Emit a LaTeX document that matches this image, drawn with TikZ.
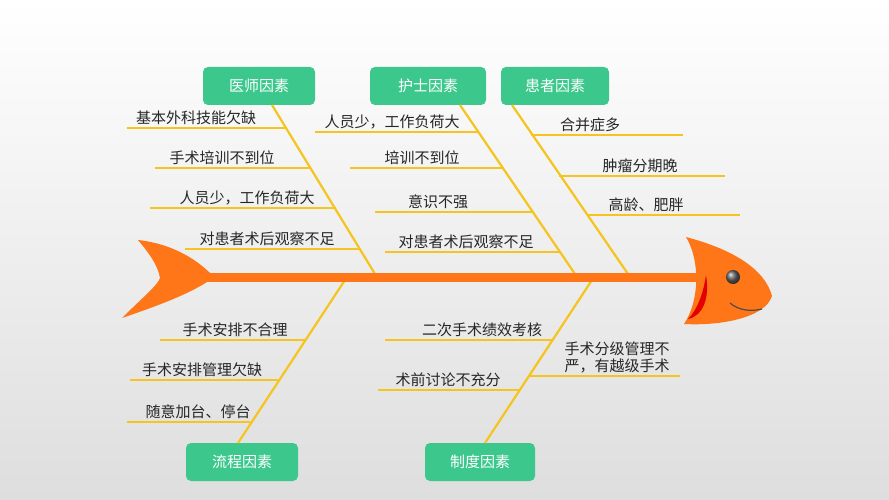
\documentclass[tikz,border=0pt]{standalone}
\usepackage{fontspec}
\setmainfont{Noto Sans CJK SC}
\definecolor{bonecol}{RGB}{245,196,30}
\definecolor{boxgreen}{RGB}{60,200,140}
\definecolor{fishor}{RGB}{255,118,24}
\tikzset{every picture/.style={line width=0.75pt}}
\tikzset{
  catbox/.style={fill=boxgreen,rounded corners=5pt,minimum height=38pt,text=white,font=\fontsize{15}{15}\selectfont,inner sep=0pt},
  cause/.style={font=\fontsize{15}{17}\selectfont,inner sep=1pt,anchor=south,text=black!85},
  bone/.style={draw=bonecol,line width=2.2pt}
}
\begin{document}
\begin{tikzpicture}[x=1pt,y=-1pt]
	\shade[top color=white,bottom color=black!13] (0,0) rectangle (889,500);
	\useasboundingbox (0,0) rectangle (889,500);
	
	%Category boxes
	\node[catbox,minimum width=112pt] (doc) at (259,86) {医师因素};
	\node[catbox,minimum width=116pt] (nurse) at (428,86) {护士因素};
	\node[catbox,minimum width=108pt] (pat) at (555,86) {患者因素};
	\node[catbox,minimum width=112pt] (flow) at (242,462) {流程因素};
	\node[catbox,minimum width=110pt] (rule) at (480,462) {制度因素};
	
	%Spine points
	\coordinate (sdoc) at (375,274);
	\coordinate (snurse) at (575,274);
	\coordinate (spat) at (628,274);
	\coordinate (sflow) at (345,280);
	\coordinate (srule) at (592,280);
	
	%Main bones
	\draw[bone] (272,105) -- (sdoc);
	\draw[bone] (460,105) -- (snurse);
	\draw[bone] (512,105) -- (spat);
	\draw[bone] (sflow) -- (238,443);
	\draw[bone] (srule) -- (485,443);
	
	%Spine
	\draw[fishor,line width=9pt] (205,277) -- (700,277);
	
	%Doctor causes
	\draw[bone] (127,128) -- (286,128);
	\draw[bone] (155,168) -- (311,168);
	\draw[bone] (150,208) -- (336,208);
	\draw[bone] (185,249) -- (361,249);
	\node[cause] (d1) at (196,126) {基本外科技能欠缺};
	\node[cause] (d2) at (222,166) {手术培训不到位};
	\node[cause] (d3) at (247,206) {人员少，工作负荷大};
	\node[cause] (d4) at (267,247) {对患者术后观察不足};
	
	%Nurse causes
	\draw[bone] (315,132) -- (479,132);
	\draw[bone] (350,168) -- (503,168);
	\draw[bone] (375,212) -- (534,212);
	\draw[bone] (385,252) -- (561,252);
	\node[cause] (n1) at (392,130) {人员少，工作负荷大};
	\node[cause] (n2) at (422,166) {培训不到位};
	\node[cause] (n3) at (438,210) {意识不强};
	\node[cause] (n4) at (466,250) {对患者术后观察不足};
	
	%Patient causes
	\draw[bone] (531,135) -- (683,135);
	\draw[bone] (559,176) -- (725,176);
	\draw[bone] (587,215) -- (740,215);
	\node[cause] (p1) at (590,133) {合并症多};
	\node[cause] (p2) at (640,174) {肿瘤分期晚};
	\node[cause] (p3) at (646,213) {高龄、肥胖};
	
	%Flow causes
	\draw[bone] (160,340) -- (305,340);
	\draw[bone] (130,380) -- (278,380);
	\draw[bone] (127,422) -- (250,422);
	\node[cause] (f1) at (235,338) {手术安排不合理};
	\node[cause] (f2) at (202,378) {手术安排管理欠缺};
	\node[cause] (f3) at (198,420) {随意加台、停台};
	
	%Rule causes
	\draw[bone] (385,340) -- (553,340);
	\draw[bone] (378,390) -- (519,390);
	\draw[bone] (528,376) -- (680,376);
	\node[cause] (r1) at (482,338) {二次手术绩效考核};
	\node[cause] (r2) at (448,388) {术前讨论不充分};
	\node[cause,align=left] (r3) at (617,374) {手术分级管理不\\严，有越级手术};
	
	%Tail
	\fill[fishor] (138,240) .. controls (175,244) and (200,262) .. (214,277) .. controls (195,292) and (160,305) .. (122,318) .. controls (140,300) and (158,285) .. (160,278) .. controls (158,265) and (148,252) .. (138,240) -- cycle;
	%Head
	\fill[fishor] (686,237) .. controls (735,250) and (765,270) .. (772,296) .. controls (765,318) and (720,326) .. (684,324) .. controls (700,300) and (700,260) .. (686,237) -- cycle;
	\fill[red!90!black] (706,275) .. controls (703,295) and (697,310) .. (688,319) .. controls (703,316) and (710,298) .. (706,275) -- cycle;
	\shade[ball color=black!60] (733,277) circle (7);
	\draw[black!70,line width=1.2pt] (730,303) .. controls (738,310) and (750,312) .. (762,309);
\end{tikzpicture}
\end{document}
